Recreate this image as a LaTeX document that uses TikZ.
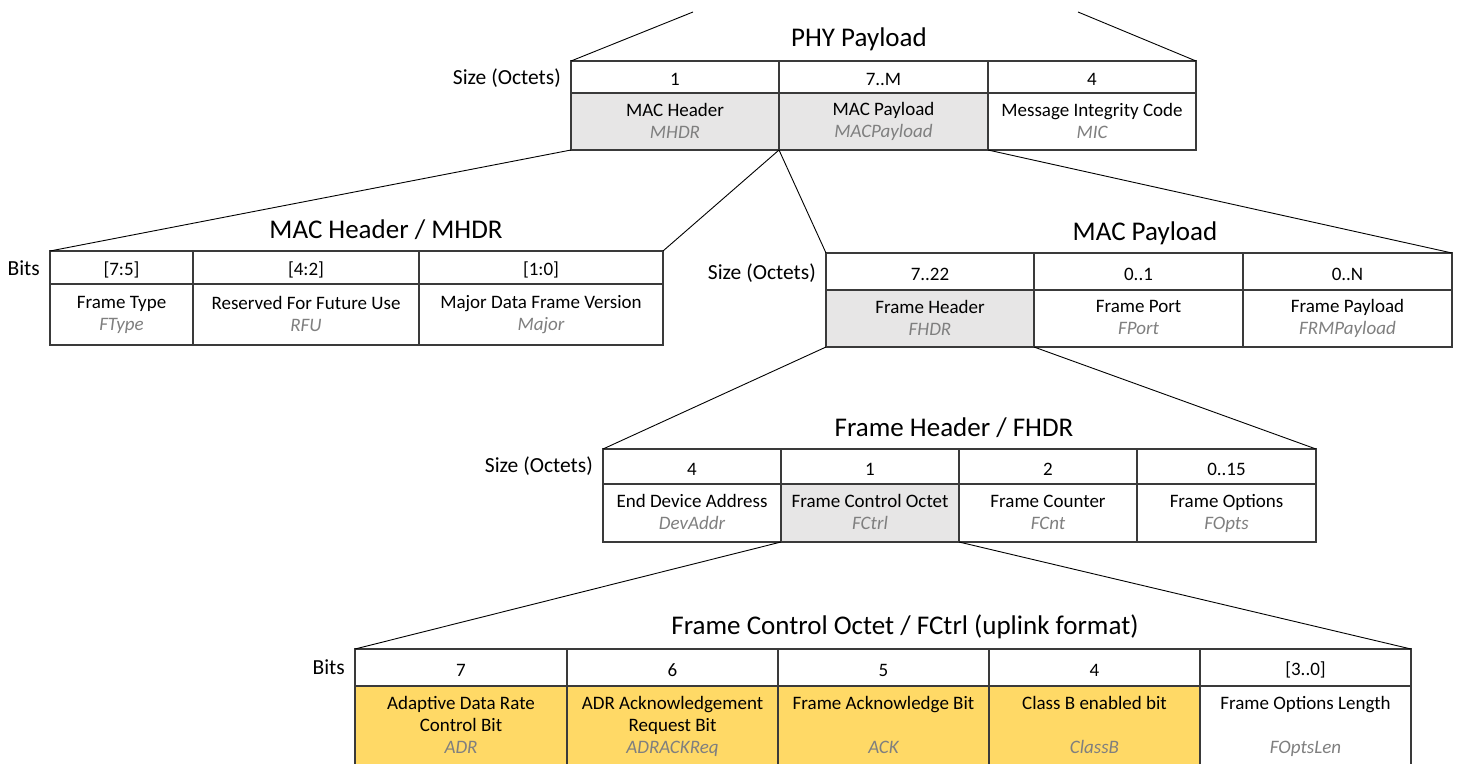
\documentclass[tikz,border=0pt]{standalone}
\usepackage{fontspec}
\setmainfont{Carlito}
\definecolor{cellgray}{HTML}{E7E6E6}
\definecolor{cellgold}{HTML}{FFD966}
\definecolor{abbrgray}{HTML}{7F7F7F}
\definecolor{rulecol}{HTML}{3A3A3A}
\newcommand\celltext{\fontsize{19}{22}\selectfont}
\newcommand\titletext{\fontsize{27}{31}\selectfont}
\newcommand\sidetext{\fontsize{21.5}{25}\selectfont}
\newcommand\abbr[1]{{\itshape\color{abbrgray}#1}}
\newcommand\cellstrut{\rule[-1.5pt]{0pt}{20.5pt}}
\tikzset{
  cell/.style={draw=rulecol, line width=1.3pt, anchor=north west, inner sep=0pt, outer sep=0pt, align=center, font=\celltext, text=black, execute at begin node=\cellstrut, execute at end node=\cellstrut},
  grey/.style={cell, fill=cellgray},
  gold/.style={cell, fill=cellgold},
  tabtitle/.style={font=\titletext, inner sep=0pt},
  sidelabel/.style={font=\sidetext, anchor=east, inner sep=0pt},
  link/.style={draw=black, line width=0.9pt}
}
\begin{document}
\begin{tikzpicture}[x=1pt,y=-1pt]
\fill[white] (0,0) rectangle (1458,763);
\useasboundingbox (0,0) rectangle (1458,763);
\clip (0,0) rectangle (1458,763);

% ---------- PHY Payload ----------
\node[tabtitle] (phytitle) at (859,39) {PHY Payload};
\node[sidelabel] (physide) at (561,78) {Size (Octets)};
\node[cell, minimum width=208, minimum height=32] (p1h) at (571,61) {1};
\node[cell, minimum width=209, minimum height=32] (p2h) at (779,61) {7..M};
\node[cell, minimum width=208, minimum height=32] (p3h) at (988,61) {4};
\node[grey, minimum width=208, minimum height=57] (p1d) at (571,93) {MAC Header\\\abbr{MHDR}};
\node[grey, minimum width=209, minimum height=57] (p2d) at (779,93) {MAC Payload\\\abbr{MACPayload}};
\node[cell, minimum width=208, minimum height=57] (p3d) at (988,93) {Message Integrity Code\\\abbr{MIC}};
\coordinate (topl) at (693,12);
\coordinate (topr) at (1078,12);

% ---------- MAC Header / MHDR ----------
\node[tabtitle] (mtitle) at (386,230) {MAC Header / MHDR};
\node[sidelabel] (mside) at (40,268) {Bits};
\node[cell, minimum width=143, minimum height=33] (m1h) at (50,251) {[7:5]};
\node[cell, minimum width=226, minimum height=33] (m2h) at (193,251) {[4:2]};
\node[cell, minimum width=244, minimum height=33] (m3h) at (419,251) {[1:0]};
\node[cell, minimum width=143, minimum height=61] (m1d) at (50,284) {Frame Type\\\abbr{FType}};
\node[cell, minimum width=226, minimum height=61] (m2d) at (193,284) {Reserved For Future Use\\\abbr{RFU}};
\node[cell, minimum width=244, minimum height=61] (m3d) at (419,284) {Major Data Frame Version\\\abbr{Major}};

% ---------- MAC Payload ----------
\node[tabtitle] (qtitle) at (1145,233) {MAC Payload};
\node[sidelabel] (qside) at (816,273) {Size (Octets)};
\node[cell, minimum width=208, minimum height=37] (q1h) at (826,253) {7..22};
\node[cell, minimum width=209, minimum height=37] (q2h) at (1034,253) {0..1};
\node[cell, minimum width=209, minimum height=37] (q3h) at (1243,253) {0..N};
\node[grey, minimum width=208, minimum height=57] (q1d) at (826,290) {Frame Header\\\abbr{FHDR}};
\node[cell, minimum width=209, minimum height=57] (q2d) at (1034,290) {Frame Port\\\abbr{FPort}};
\node[cell, minimum width=209, minimum height=57] (q3d) at (1243,290) {Frame Payload\\\abbr{FRMPayload}};

% ---------- Frame Header / FHDR ----------
\node[tabtitle] (ftitle) at (954,428) {Frame Header / FHDR};
\node[sidelabel] (fside) at (593,466) {Size (Octets)};
\node[cell, minimum width=178, minimum height=35] (f1h) at (603,449) {4};
\node[cell, minimum width=178, minimum height=35] (f2h) at (781,449) {1};
\node[cell, minimum width=178, minimum height=35] (f3h) at (959,449) {2};
\node[cell, minimum width=179, minimum height=35] (f4h) at (1137,449) {0..15};
\node[cell, minimum width=178, minimum height=58] (f1d) at (603,484) {End Device Address\\\abbr{DevAddr}};
\node[grey, minimum width=178, minimum height=58] (f2d) at (781,484) {Frame Control Octet\\\abbr{FCtrl}};
\node[cell, minimum width=178, minimum height=58] (f3d) at (959,484) {Frame Counter\\\abbr{FCnt}};
\node[cell, minimum width=179, minimum height=58] (f4d) at (1137,484) {Frame Options\\\abbr{FOpts}};

% ---------- Frame Control Octet / FCtrl ----------
\node[tabtitle] (ctitle) at (905,627) {Frame Control Octet / FCtrl (uplink format)};
\node[sidelabel] (cside) at (345,667) {Bits};
\node[cell, minimum width=212, minimum height=37] (c1h) at (355,649) {7};
\node[cell, minimum width=211, minimum height=37] (c2h) at (567,649) {6};
\node[cell, minimum width=211, minimum height=37] (c3h) at (778,649) {5};
\node[cell, minimum width=211, minimum height=37] (c4h) at (989,649) {4};
\node[cell, minimum width=211, minimum height=37] (c5h) at (1200,649) {[3..0]};
\node[gold, minimum width=212, minimum height=80] (c1d) at (355,686) {Adaptive Data Rate\\Control Bit\\\abbr{ADR}};
\node[gold, minimum width=211, minimum height=80] (c2d) at (567,686) {ADR Acknowledgement\\Request Bit\\\abbr{ADRACKReq}};
\node[gold, minimum width=211, minimum height=80] (c3d) at (778,686) {Frame Acknowledge Bit\\\mbox{}\\\abbr{ACK}};
\node[gold, minimum width=211, minimum height=80] (c4d) at (989,686) {Class B enabled bit\\\mbox{}\\\abbr{ClassB}};
\node[cell, minimum width=211, minimum height=80] (c5d) at (1200,686) {Frame Options Length\\\mbox{}\\\abbr{FOptsLen}};

% ---------- connectors ----------
\draw[link] (topl) -- (p1h.north west);
\draw[link] (topr) -- (p3h.north east);
\draw[link] (p1d.south west) -- (m1h.north west);
\draw[link] (p1d.south east) -- (m3h.north east);
\draw[link] (p2d.south west) -- (q1h.north west);
\draw[link] (p2d.south east) -- (q3h.north east);
\draw[link] (q1d.south west) -- (f1h.north west);
\draw[link] (q1d.south east) -- (f4h.north east);
\draw[link] (f2d.south west) -- (c1h.north west);
\draw[link] (f2d.south east) -- (c5h.north east);
\end{tikzpicture}
\end{document}
